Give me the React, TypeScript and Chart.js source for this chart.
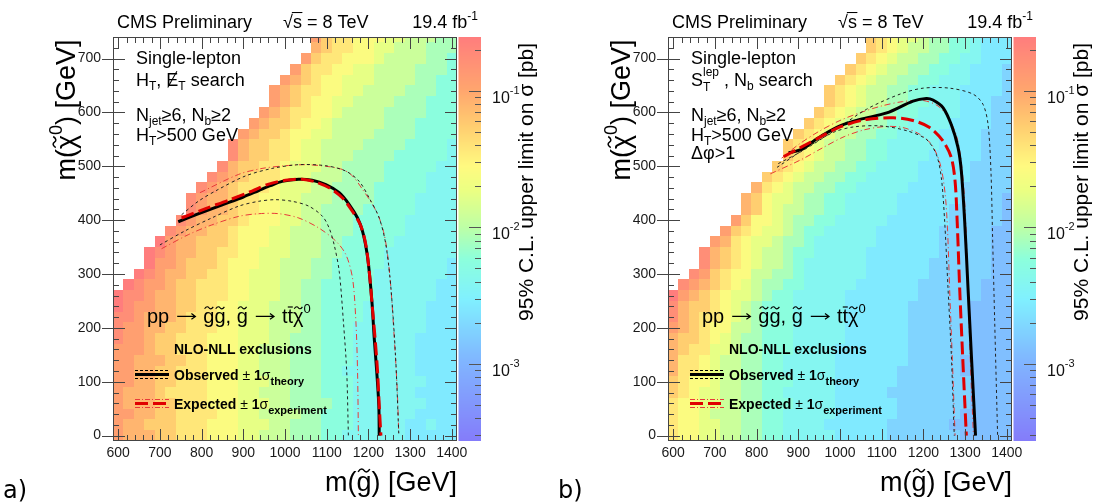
import React, { useEffect, useRef } from "react";
import { Chart, registerables } from "chart.js";

Chart.register(...registerables);

type Pt = [number, number];

const FONT = '"Liberation Sans", Arial, Helvetica, sans-serif';
const PANEL_W = 555;
const PANEL_H = 504;
const AREA = { left: 113, right: 457, top: 37, bottom: 441 };

// ---- axes -----------------------------------------------------------
const X_MIN = 587.5;
const X_MAX = 1412.5;
const Y_MIN = -10;
const Y_MAX = 740;
const X_TICKS = [600, 700, 800, 900, 1000, 1100, 1200, 1300, 1400];
const Y_TICKS = [0, 100, 200, 300, 400, 500, 600, 700];
const Z_MIN = 2.7e-4;
const Z_MAX = 0.25;
const Z_TICKS = [0.001, 0.01, 0.1];
const Z_TICK_EXP = ["-3", "-2", "-1"];

// ---- histogram binning (bin centres, GeV) ---------------------------
const X_BINS = [600, 625, 650, 675, 700, 725, 750, 775, 800, 825, 850, 875, 900, 925, 950, 975, 1000, 1025, 1050, 1075, 1100, 1125, 1150, 1175, 1200, 1225, 1250, 1275, 1300, 1325, 1350, 1375, 1400];
const Y_BINS = [0, 20, 40, 60, 80, 100, 120, 140, 160, 180, 200, 220, 240, 260, 280, 300, 320, 340, 360, 380, 400, 420, 440, 460, 480, 500, 520, 540, 560, 580, 600, 620, 640, 660, 680, 700, 720, 740];
const X_HALF = 12.5;
const Y_HALF = 10;

// each letter = one cross-section-limit level (a = Z_MIN ... s = Z_MAX, log spaced); "." = no point
const LEVEL_CHARS = "abcdefghijklmnopqrs";

// rows from m(chi) = 0 (first) upwards, columns m(gluino) 600..1400
const LEFT_LIMITS = [
  "qpppoonnnmmmllkkkjjjiihhhhhhggggg",
  "qppooonnnmmmlllkkjjjiiihhhhhgghgg",
  "qqppoonnnnmmllkkkkjjiiihhhhhhgggg",
  "qpppoonnnmmmlllkkjjjjiihhhhhhhggg",
  "qppponnnnmmmllkkkjjjiiihhhhhhgggg",
  "qqppoonnnmmmlllkkjjjiiihhhhhhhggg",
  "qqppoonnnmmmllkkkjjjiihhhhhhhgggg",
  "qqpppoonnmmmllkkkjjjiiihhhhhhgggg",
  "qqqpoonnnmmmllkkkjjjiiihhhhhhgggg",
  "rqqpoonnnmmmlllkkjjjiiihhhhhhgggg",
  "rqqppoonnnmmlllkkkjjiiihhhhhhhggg",
  "rrqppponnnmmlllkkkjjiiiihhhhhhggg",
  "srqqppoonnmmlllkkkjjiiiihhhhhhggg",
  "srrqppoonnnmmlllkkjjiiiiihhhhhhgg",
  ".srqqpoonnnmmlllkkjjiiiiihhhhhhgg",
  "..srqppoonnmmlllkkkjjiiiihhhhhhhg",
  "...sqqpooonmmmllkkkjjiiiiihhhhhhg",
  "...srqppoonnmmlllkkkjjiiiihhhhhhh",
  "....sqppooonmmmllkkkjjiiiiihhhhhh",
  ".....rqppoonmmmllkkkjjjiiiiihhhhh",
  "......rqppoonmmmllkkjjjiiiiihhhhh",
  ".......rqpponnmmllkkjjjjiiiiihhhh",
  ".......rqpponnmmllkkkjjjjiiiihhhh",
  "........rqponnnmlllkkjjjjiiiiihhh",
  ".........rqponnnmllkkkjjjjiiiihhh",
  "..........rpoonnmlllkkjjjjiiiiihh",
  "...........rpoonnmllkkkjjjjiiiiih",
  "...........rpoonnmllkkkkjjjjiiiih",
  "............qpoonmmllkkkkjjjjiiii",
  ".............qpoonmmlkkkkkjjjiiii",
  "..............qponnmmlkkkkjjjjiii",
  "...............qponmmllkkkkjjjiii",
  "...............qponnmmllkkkkjjjii",
  "................qponmmlllkkkkjjii",
  ".................qonnmmllkkkkjjji",
  "..................qonnmmmlkkkkjji",
  "...................ponnmmllkkkjjj",
  "...................qonnmmmllkkkjj",
];

const RIGHT_LIMITS = [
  "nmmllkkjjiihhhhhgggggfffffffeeeee",
  "nmmllkkjjiihhhhggggggffffffeeeeee",
  "nmmlkkkjjiihhhhhggggggffffffeeeee",
  "nmmllkkjjiiihhhhggggggfffffffeeee",
  "onmllkkjjiihhhhhgggggffffffffeeee",
  "onmmlkkjjiiihhhhggggggfffffffeeee",
  "pnnmlkkjjiihhhhhggggggffffffeeeee",
  "pnnmlkkjjiihhhhhgggggggfffffeeeee",
  "ponnllkjjiiihhhhgggggggffffffeeee",
  "poonmlkjjiiihhhhhggggggffffffeeee",
  "qponmmkkjiiihhhhhggggggffffffeeee",
  "rponnmlkjiiihhhhhggggggffffffeeee",
  "rpoonmlkjiiihhhhhggggggffffffeeee",
  "sqponmllkjiihhhhhgggggggffffffeee",
  ".rqponmlkjjiihhhhhggggggffffffeee",
  "..rqonmmkkjjihhhhhhggggggffffffee",
  "...rponmlkkjihhhhhhggggggffffffee",
  "...rponmlkkjiihhhhhgggggggfffffee",
  "....qpnmllkjjihhhhhhggggggfffffee",
  ".....qonmllkjiihhhhhggggggfffffee",
  "......qommlkjjiihhhhhggggggfffffe",
  ".......pomlkkjjiihhhhhgggggfffffe",
  ".......pomllkjjiihhhhhggggggffffe",
  "........pnmlkkjjiihhhhhgggggfffff",
  ".........onmlkkjjiihhhhhgggggffff",
  "..........onmlkkjjiihhhhgggggffff",
  "...........onmlkkjjiihhhhgggggfff",
  "...........onmlkkjjiihhhhhggggfff",
  "............onmlkkjjiihhhhggggfff",
  ".............onmlkkjjiihhhhggggff",
  "..............onmlkkjjiihhhhgggff",
  "...............onmlkkjjiihhhgggff",
  "...............onmlkkjjiihhhggggf",
  "................onmlkkjjiihhhgggf",
  ".................onmlkkjjiihhgggf",
  "..................onmlkkjjiihhggg",
  "...................onmlkkjjiihggg",
  "...................onmllkjjiihggg",
];

// ---- exclusion contours, [m(gluino), m(chi)] in GeV ------------------
const LEFT_OBS: Pt[] = [[744, 397], [790, 411], [848, 428], [900, 443], [937, 455], [965, 464], [993, 472], [1033, 476], [1065, 474], [1098, 466], [1130, 451], [1154, 429], [1174, 404], [1186, 379], [1196, 342], [1202, 305], [1209, 243], [1214, 181], [1220, 119], [1225, 56], [1226, 0]];
const LEFT_EXP: Pt[] = [[752, 404], [808, 421], [865, 437], [921, 454], [961, 467], [1001, 474], [1041, 476], [1073, 471], [1106, 460], [1138, 441], [1162, 416], [1182, 389], [1194, 354], [1202, 305], [1209, 243], [1216, 181], [1222, 119], [1226, 56], [1230, 0]];
const LEFT_TH_UP: Pt[] = [[752, 410], [792, 435], [840, 457], [905, 482], [969, 496], [1033, 503], [1098, 501], [1146, 491], [1178, 472], [1202, 441], [1226, 404], [1242, 354], [1254, 274], [1265, 149], [1273, 0]];
const LEFT_TH_DN: Pt[] = [[700, 354], [760, 380], [824, 404], [889, 426], [937, 435], [977, 438], [1017, 435], [1057, 426], [1090, 407], [1106, 385], [1118, 354], [1130, 305], [1140, 212], [1148, 119], [1152, 0]];
const LEFT_EX_UP: Pt[] = [[796, 451], [889, 485], [945, 496], [1001, 501], [1049, 503], [1098, 500], [1138, 494], [1162, 482], [1186, 457], [1210, 429], [1226, 404], [1238, 373], [1246, 336], [1254, 274], [1262, 181], [1269, 88], [1273, 0]];
const LEFT_EX_DN: Pt[] = [[704, 347], [768, 373], [824, 391], [889, 407], [937, 412], [985, 412], [1033, 404], [1082, 385], [1122, 361], [1146, 336], [1162, 292], [1170, 212], [1174, 119], [1176, 0]];

const RIGHT_OBS: Pt[] = [[877, 525], [906, 531], [937, 547], [961, 559], [1000, 575], [1048, 587], [1112, 599], [1175, 621], [1207, 626], [1223, 623], [1247, 609], [1267, 577], [1283, 535], [1291, 491], [1299, 398], [1307, 274], [1315, 150], [1325, 0]];
const RIGHT_EXP: Pt[] = [[865, 518], [906, 535], [952, 554], [1000, 573], [1064, 587], [1128, 590], [1175, 585], [1215, 572], [1247, 547], [1267, 516], [1276, 472], [1281, 398], [1287, 274], [1294, 150], [1303, 0]];
const RIGHT_TH_UP: Pt[] = [[852, 505], [906, 527], [984, 565], [1064, 606], [1144, 634], [1199, 645], [1263, 645], [1319, 634], [1343, 615], [1355, 578], [1362, 491], [1366, 367], [1371, 212], [1378, 0]];
const RIGHT_TH_DN: Pt[] = [[849, 498], [921, 535], [984, 563], [1032, 573], [1096, 575], [1160, 566], [1207, 550], [1231, 522], [1243, 479], [1251, 398], [1259, 274], [1267, 150], [1274, 0]];
const RIGHT_EX_UP: Pt[] = [[860, 515], [900, 540], [950, 565], [1000, 585], [1050, 600], [1100, 612], [1150, 620], [1200, 622], [1235, 612], [1260, 590], [1280, 555], [1292, 500], [1300, 420], [1306, 300], [1312, 150], [1320, 0]];
const RIGHT_EX_DN: Pt[] = [[833, 486], [906, 512], [960, 535], [1010, 555], [1060, 568], [1110, 574], [1150, 572], [1190, 560], [1220, 540], [1240, 505], [1252, 450], [1258, 380], [1263, 270], [1269, 150], [1276, 0]];

// ---- colour palette (fraction along the z axis -> rgb) ---------------
const PALETTE: number[][] = [
  [0.0, 132, 124, 250],
  [0.2, 128, 182, 255],
  [0.35, 128, 240, 255],
  [0.45, 140, 255, 220],
  [0.53, 190, 255, 165],
  [0.62, 235, 255, 130],
  [0.68, 255, 250, 128],
  [0.78, 255, 205, 112],
  [0.87, 255, 165, 110],
  [1.0, 255, 125, 125],
];

function palette(t: number): string {
  const u = Math.max(0, Math.min(1, t));
  for (let i = 1; i < PALETTE.length; i++) {
    if (u <= PALETTE[i][0]) {
      const a = PALETTE[i - 1];
      const b = PALETTE[i];
      const f = (u - a[0]) / (b[0] - a[0]);
      const c = [1, 2, 3].map((k) => Math.round(a[k] + (b[k] - a[k]) * f));
      return `rgb(${c[0]},${c[1]},${c[2]})`;
    }
  }
  return "rgb(255,125,125)";
}

function levelValue(k: number): number {
  return Z_MIN * Math.pow(Z_MAX / Z_MIN, k / (LEVEL_CHARS.length - 1));
}

// ---- rich text --------------------------------------------------------
interface Seg {
  t: string;
  size?: number;
  dy?: number;
  bold?: boolean;
  tilde?: boolean;
  bar?: boolean;
  slash?: boolean;
  over?: boolean;
  arrow?: boolean;
  sup?: string;
  supDy?: number;
}

function segFont(s: Seg, base: number, bold: boolean) {
  const b = s.bold ?? bold;
  return `${b ? "bold " : ""}${s.size ?? base}px ${FONT}`;
}

function drawTilde(ctx: CanvasRenderingContext2D, cx: number, cy: number, w: number, lw: number) {
  const a = w / 2;
  const h = Math.max(1.2, w * 0.16);
  ctx.save();
  ctx.setLineDash([]);
  ctx.lineWidth = lw;
  ctx.beginPath();
  ctx.moveTo(cx - a, cy + h * 0.7);
  ctx.bezierCurveTo(cx - a * 0.55, cy - h * 1.5, cx - a * 0.15, cy - h * 0.8, cx, cy);
  ctx.bezierCurveTo(cx + a * 0.15, cy + h * 0.8, cx + a * 0.55, cy + h * 1.5, cx + a, cy - h * 0.7);
  ctx.stroke();
  ctx.restore();
}

function drawRich(
  ctx: CanvasRenderingContext2D,
  x: number,
  y: number,
  segs: Seg[],
  base: number,
  align: "left" | "center" | "right" = "left",
  bold = false,
  color = "#000",
) {
  ctx.save();
  ctx.textAlign = "left";
  ctx.textBaseline = "alphabetic";
  ctx.fillStyle = color;
  ctx.strokeStyle = color;
  ctx.setLineDash([]);
  const ws = segs.map((s) => {
    if (s.arrow) return (s.size ?? base) * 1.15;
    ctx.font = segFont(s, base, bold);
    let w = ctx.measureText(s.t).width;
    if (s.sup) w = Math.max(w, ctx.measureText(s.sup).width);
    return w;
  });
  const total = ws.reduce((p, c) => p + c, 0);
  let cx = align === "left" ? x : align === "right" ? x - total : x - total / 2;
  segs.forEach((s, i) => {
    const size = s.size ?? base;
    const by = y + (s.dy ?? 0);
    if (s.arrow) {
      const w = ws[i];
      const ya = by - size * 0.33;
      const x0 = cx + size * 0.12;
      const x1 = cx + w - size * 0.12;
      ctx.lineWidth = 1.2;
      ctx.beginPath();
      ctx.moveTo(x0, ya);
      ctx.lineTo(x1, ya);
      ctx.moveTo(x1 - size * 0.2, ya - size * 0.14);
      ctx.lineTo(x1, ya);
      ctx.lineTo(x1 - size * 0.2, ya + size * 0.14);
      ctx.stroke();
      cx += w;
      return;
    }
    ctx.font = segFont(s, base, bold);
    ctx.fillText(s.t, cx, by);
    if (s.sup) ctx.fillText(s.sup, cx, y + (s.supDy ?? 0));
    const w = ctx.measureText(s.t).width;
    ctx.lineWidth = Math.max(1, size / 17);
    if (s.tilde) drawTilde(ctx, cx + w / 2, by - size * 0.76, w * 0.78, Math.max(1, size / 18));
    if (s.bar) {
      ctx.beginPath();
      ctx.moveTo(cx + w * 0.05, by - size * 0.8);
      ctx.lineTo(cx + w * 0.95, by - size * 0.8);
      ctx.stroke();
    }
    if (s.over) {
      ctx.beginPath();
      ctx.moveTo(cx - 1, by - size * 0.86);
      ctx.lineTo(cx + w + 0.5, by - size * 0.86);
      ctx.stroke();
    }
    if (s.slash) {
      ctx.beginPath();
      ctx.moveTo(cx + w * 0.12, by + size * 0.08);
      ctx.lineTo(cx + w * 0.88, by - size * 0.82);
      ctx.stroke();
    }
    cx += ws[i];
  });
  ctx.restore();
  return total;
}

function seg(ctx: CanvasRenderingContext2D, x1: number, y1: number, x2: number, y2: number) {
  ctx.beginPath();
  ctx.moveTo(x1, y1);
  ctx.lineTo(x2, y2);
  ctx.stroke();
}

// ---- panel specification ----------------------------------------------
interface PanelSpec {
  tag: string;
  limits: string[];
  obs: Pt[];
  exp: Pt[];
  thUp: Pt[];
  thDn: Pt[];
  exUp: Pt[];
  exDn: Pt[];
  info: { y: number; segs: Seg[]; size: number }[];
}

const SUB = { size: 12, dy: 4 };

const LEFT_SPEC: PanelSpec = {
  tag: "a)",
  limits: LEFT_LIMITS,
  obs: LEFT_OBS,
  exp: LEFT_EXP,
  thUp: LEFT_TH_UP,
  thDn: LEFT_TH_DN,
  exUp: LEFT_EX_UP,
  exDn: LEFT_EX_DN,
  info: [
    { y: 64, size: 18, segs: [{ t: "Single-lepton" }] },
    { y: 86, size: 18, segs: [{ t: "H" }, { t: "T", ...SUB }, { t: ", " }, { t: "E", slash: true }, { t: "T", ...SUB }, { t: " search" }] },
    { y: 121, size: 18, segs: [{ t: "N" }, { t: "jet", ...SUB }, { t: "≥6, N" }, { t: "b", ...SUB }, { t: "≥2" }] },
    { y: 141, size: 18, segs: [{ t: "H" }, { t: "T", ...SUB }, { t: ">500 GeV" }] },
  ],
};

const RIGHT_SPEC: PanelSpec = {
  tag: "b)",
  limits: RIGHT_LIMITS,
  obs: RIGHT_OBS,
  exp: RIGHT_EXP,
  thUp: RIGHT_TH_UP,
  thDn: RIGHT_TH_DN,
  exUp: RIGHT_EX_UP,
  exDn: RIGHT_EX_DN,
  info: [
    { y: 64, size: 18, segs: [{ t: "Single-lepton" }] },
    { y: 86, size: 18, segs: [{ t: "S" }, { t: "T", size: 12, dy: 5, sup: "lep", supDy: -10 }, { t: " , N" }, { t: "b", ...SUB }, { t: " search" }] },
    { y: 121, size: 18, segs: [{ t: "N" }, { t: "jet", ...SUB }, { t: "≥6, N" }, { t: "b", ...SUB }, { t: "≥2" }] },
    { y: 141, size: 18, segs: [{ t: "H" }, { t: "T", ...SUB }, { t: ">500 GeV" }] },
    { y: 159, size: 18, segs: [{ t: "Δφ>1" }] },
  ],
};

// ---- plugins ------------------------------------------------------------
function heatPlugin(limits: string[]) {
  return {
    id: "heat",
    beforeDatasetsDraw(chart: any) {
      const { ctx, chartArea: a } = chart;
      const xs = chart.scales.x;
      const ys = chart.scales.y;
      const cs = chart.scales.c;
      ctx.save();
      ctx.beginPath();
      ctx.rect(a.left, a.top, a.right - a.left, a.bottom - a.top);
      ctx.clip();
      limits.forEach((row, r) => {
        const yc = Y_BINS[r];
        if (yc === undefined) return;
        for (let c = 0; c < row.length && c < X_BINS.length; c++) {
          const k = LEVEL_CHARS.indexOf(row[c]);
          if (k < 0) continue;
          const v = levelValue(k);
          const t = (cs.bottom - cs.getPixelForValue(v)) / (cs.bottom - cs.top);
          ctx.fillStyle = palette(t);
          const x0 = Math.round(xs.getPixelForValue(X_BINS[c] - X_HALF));
          const x1 = Math.round(xs.getPixelForValue(X_BINS[c] + X_HALF));
          const y0 = Math.round(ys.getPixelForValue(yc + Y_HALF));
          const y1 = Math.round(ys.getPixelForValue(yc - Y_HALF));
          ctx.fillRect(x0, y0, x1 - x0, y1 - y0);
        }
      });
      ctx.restore();
    },
  };
}

function decorPlugin(spec: PanelSpec) {
  return {
    id: "decor",
    afterDraw(chart: any) {
      const ctx: CanvasRenderingContext2D = chart.ctx;
      const a = chart.chartArea;
      const xs = chart.scales.x;
      const ys = chart.scales.y;
      const cs = chart.scales.c;
      ctx.save();
      ctx.setLineDash([]);

      // colour bar
      const cbL = a.right + 1.5;
      const cbR = a.right + 24;
      for (let py = Math.floor(cs.top); py < Math.ceil(cs.bottom); py++) {
        const t = (cs.bottom - (py + 0.5)) / (cs.bottom - cs.top);
        ctx.fillStyle = palette(t);
        ctx.fillRect(cbL, py, cbR - cbL, 1);
      }
      ctx.strokeStyle = "#555";
      ctx.lineWidth = 1;
      for (let e = -4; e <= -1; e++) {
        for (let m = 1; m <= 9; m++) {
          const v = m * Math.pow(10, e);
          if (v < Z_MIN || v > Z_MAX) continue;
          const py = Math.round(cs.getPixelForValue(v)) + 0.5;
          const L = m === 1 ? 12 : 6;
          seg(ctx, cbR - L, py, cbR, py);
        }
      }
      Z_TICKS.forEach((v, i) => {
        const py = cs.getPixelForValue(v);
        drawRich(ctx, cbR + 11, py + 12, [{ t: "10" }, { t: Z_TICK_EXP[i], size: 11, dy: -9 }], 16, "left", false, "#111");
      });

      // frame and ticks
      ctx.strokeStyle = "#444";
      ctx.lineWidth = 1;
      ctx.strokeRect(a.left + 0.5, a.top + 0.5, a.right - a.left - 1, a.bottom - a.top - 1);
      for (let v = 600; v <= 1400; v += 20) {
        const px = Math.round(xs.getPixelForValue(v)) + 0.5;
        const L = v % 100 === 0 ? 12 : 6;
        seg(ctx, px, a.bottom, px, a.bottom - L);
        seg(ctx, px, a.top, px, a.top + L);
      }
      for (let v = 0; v <= 720; v += 20) {
        const py = Math.round(ys.getPixelForValue(v)) + 0.5;
        const major = v % 100 === 0;
        if (major) seg(ctx, a.left - 11, py, a.left + 12, py);
        else seg(ctx, a.left, py, a.left + 6, py);
        seg(ctx, a.right, py, a.right - (major ? 12 : 6), py);
      }

      // header
      drawRich(ctx, 117, 28, [{ t: "CMS Preliminary" }], 18);
      drawRich(ctx, 283, 28, [{ t: "√" }, { t: "s", over: true }, { t: " = 8 TeV" }], 18);
      drawRich(ctx, 478, 28, [{ t: "19.4 fb" }, { t: "-1", size: 12, dy: -8 }], 18, "right");

      // axis titles
      ctx.save();
      ctx.translate(75, 110);
      ctx.rotate(-Math.PI / 2);
      drawRich(ctx, 0, 0, [{ t: "m(" }, { t: "χ", tilde: true }, { t: "0", size: 18, dy: -13 }, { t: ") [GeV]" }], 27, "center");
      ctx.restore();
      drawRich(ctx, a.right, 491, [{ t: "m(" }, { t: "g", tilde: true }, { t: ") [GeV]" }], 27, "right");
      ctx.save();
      ctx.translate(533, 182);
      ctx.rotate(-Math.PI / 2);
      drawRich(ctx, 0, 0, [{ t: "95% C.L. upper limit on σ [pb]" }], 21, "center");
      ctx.restore();

      // info text
      spec.info.forEach((l) => drawRich(ctx, 136, l.y, l.segs, l.size));
      drawRich(
        ctx,
        147,
        323,
        [
          { t: "pp " },
          { t: "", arrow: true },
          { t: " " },
          { t: "g", tilde: true },
          { t: "g", tilde: true },
          { t: ", " },
          { t: "g", tilde: true },
          { t: " " },
          { t: "", arrow: true },
          { t: " t" },
          { t: "t", bar: true },
          { t: "χ", tilde: true },
          { t: "0", size: 13, dy: -10 },
        ],
        20,
      );
      drawRich(ctx, 174, 354, [{ t: "NLO-NLL exclusions" }], 14, "left", true);

      // legend samples
      const lx0 = 135;
      const lx1 = 169;
      ctx.strokeStyle = "#000";
      ctx.lineWidth = 3;
      seg(ctx, lx0, 374.5, lx1, 374.5);
      ctx.lineWidth = 1;
      ctx.setLineDash([3, 2]);
      seg(ctx, lx0, 370.5, lx1, 370.5);
      seg(ctx, lx0, 378.5, lx1, 378.5);
      ctx.strokeStyle = "#e00000";
      ctx.lineWidth = 3;
      ctx.setLineDash([13, 5]);
      seg(ctx, lx0, 403.5, lx1, 403.5);
      ctx.lineWidth = 1;
      ctx.strokeStyle = "#e83a3a";
      ctx.setLineDash([5, 2, 1, 2]);
      seg(ctx, lx0, 399.5, lx1, 399.5);
      seg(ctx, lx0, 407.5, lx1, 407.5);
      ctx.setLineDash([]);
      drawRich(ctx, 174, 380, [{ t: "Observed", bold: true }, { t: " ± " }, { t: "1", bold: true }, { t: "σ" }, { t: "theory", size: 11, dy: 5, bold: true }], 14);
      drawRich(ctx, 174, 409, [{ t: "Expected", bold: true }, { t: " ± " }, { t: "1", bold: true }, { t: "σ" }, { t: "experiment", size: 11, dy: 5, bold: true }], 14);

      // panel tag
      ctx.fillStyle = "#000";
      ctx.font = '24px "DejaVu Sans", sans-serif';
      ctx.textAlign = "left";
      ctx.textBaseline = "alphabetic";
      ctx.fillText(spec.tag, 3, 498);
      ctx.restore();
    },
  };
}

function lineDs(pts: Pt[], color: string, width: number, dash: number[]) {
  return {
    data: pts.map(([x, y]) => ({ x, y })),
    borderColor: color,
    borderWidth: width,
    borderDash: dash,
    pointRadius: 0,
    tension: 0.3,
    fill: false,
    xAxisID: "x",
    yAxisID: "y",
  };
}

function Panel({ spec, left }: { spec: PanelSpec; left: number }) {
  const ref = useRef<HTMLCanvasElement>(null);
  useEffect(() => {
    if (!ref.current) return;
    const tickFont = { family: FONT, size: 14 };
    const chart = new Chart(ref.current, {
      type: "line",
      data: {
        datasets: [
          lineDs(spec.exp, "#e00000", 3, [13, 5]),
          lineDs(spec.obs, "#000000", 3, []),
          lineDs(spec.thUp, "#222222", 1, [3, 3]),
          lineDs(spec.thDn, "#222222", 1, [3, 3]),
          lineDs(spec.exUp, "#e83a3a", 1, [6, 3, 1, 3]),
          lineDs(spec.exDn, "#e83a3a", 1, [6, 3, 1, 3]),
        ] as any,
      },
      options: {
        responsive: false,
        animation: false,
        devicePixelRatio: 1,
        events: [],
        layout: { padding: { top: AREA.top, left: 0, right: 0, bottom: 0 } },
        plugins: { legend: { display: false }, tooltip: { enabled: false }, title: { display: false } },
        scales: {
          x: {
            type: "linear",
            position: "bottom",
            min: X_MIN,
            max: X_MAX,
            grid: { display: false, drawTicks: false },
            border: { display: false },
            ticks: { font: tickFont, color: "#1a1a1a", padding: 4, maxRotation: 0, autoSkip: false, callback: (v: any) => String(v) },
            afterBuildTicks: (s: any) => {
              s.ticks = X_TICKS.map((v) => ({ value: v }));
            },
            afterFit: (s: any) => {
              s.height = PANEL_H - AREA.bottom;
            },
          },
          y: {
            type: "linear",
            position: "left",
            min: Y_MIN,
            max: Y_MAX,
            grid: { display: false, drawTicks: false },
            border: { display: false },
            ticks: { font: tickFont, color: "#1a1a1a", padding: 12, autoSkip: false, callback: (v: any) => String(v) },
            afterBuildTicks: (s: any) => {
              s.ticks = Y_TICKS.map((v) => ({ value: v }));
            },
            afterFit: (s: any) => {
              s.width = AREA.left;
            },
          },
          c: {
            type: "logarithmic",
            position: "right",
            min: Z_MIN,
            max: Z_MAX,
            grid: { display: false, drawTicks: false },
            border: { display: false },
            ticks: { display: false },
            afterFit: (s: any) => {
              s.width = PANEL_W - AREA.right;
            },
          },
        } as any,
      },
      plugins: [heatPlugin(spec.limits), decorPlugin(spec)],
    });
    return () => chart.destroy();
  }, [spec]);
  return (
    <canvas
      ref={ref}
      width={PANEL_W}
      height={PANEL_H}
      style={{ position: "absolute", left, top: 0, width: PANEL_W, height: PANEL_H }}
    />
  );
}

export default function App() {
  return (
    <div style={{ position: "fixed", left: 0, top: 0, width: 1110, height: 504, background: "#fff", overflow: "hidden" }}>
      <Panel spec={LEFT_SPEC} left={0} />
      <Panel spec={RIGHT_SPEC} left={555} />
    </div>
  );
}
